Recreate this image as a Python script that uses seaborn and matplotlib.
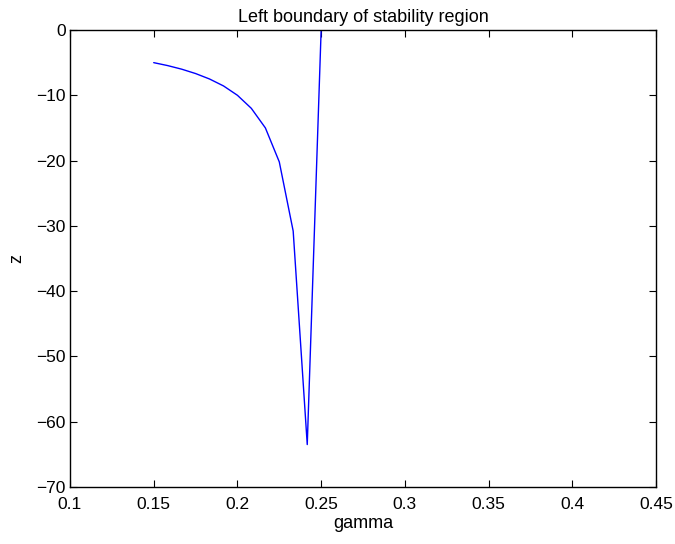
import matplotlib
matplotlib.use("Agg")
import matplotlib.pyplot as plt
import seaborn as sns
import pandas as pd
import numpy as np

gamma = [0.15, 0.1583, 0.1667, 0.175, 0.1833, 0.1917, 0.2, 0.2083, 0.2167,
         0.225, 0.2333, 0.2417, 0.25, 0.2583, 0.2667, 0.275, 0.2833, 0.2917,
         0.3, 0.3083, 0.3167, 0.325, 0.3333, 0.3417, 0.35, 0.3583, 0.3667,
         0.375, 0.3833, 0.3917]
z = [-5.0, -5.45, -6.0, -6.67, -7.5, -8.57, -10.0, -12.0, -15.0,
     -20.2, -30.8, -63.5, 0.0, 0.0, 0.0, 0.0, 0.0, 0.0,
     0.0, 0.0, 0.0, 0.0, 0.0, 0.0, 0.0, 0.0, 0.0,
     0.0, 0.0, 0.0]
xticks = [0.1, 0.15, 0.2, 0.25, 0.3, 0.35, 0.4, 0.45]
xticklabels = ["0.1", "0.15", "0.2", "0.25", "0.3", "0.35", "0.4", "0.45"]
yticks = [-70, -60, -50, -40, -30, -20, -10, 0]
yticklabels = ["\u221270", "\u221260", "\u221250", "\u221240", "\u221230", "\u221220", "\u221210", "0"]

sns.set_theme(style="white")
plt.rcParams['font.family'] = ['Liberation Sans', 'DejaVu Sans']

df = pd.DataFrame({"gamma": gamma, "z": z})
fig = plt.figure(figsize=(6.75, 5.44), dpi=100)
ax = fig.add_axes([70/675, 1-487/544, 586/675, 457/544])
sns.lineplot(data=df, x="gamma", y="z", sort=False, color="#0000ff", lw=1.0, ax=ax)
ax.set_xlim(0.1, 0.45)
ax.set_ylim(-70, 0)
ax.set_xticks(xticks)
ax.set_xticklabels(xticklabels)
ax.set_yticks(yticks)
ax.set_yticklabels(yticklabels)
ax.tick_params(direction="in", length=5, width=0.8, colors="black", labelsize=12.5,
               top=True, right=True, bottom=True, left=True)
ax.tick_params(axis="x", pad=7)
ax.tick_params(axis="y", pad=3)
for s in ax.spines.values():
    s.set_color("black")
    s.set_linewidth(1.0)
    s.set_visible(True)
ax.set_xlabel("gamma", fontsize=13, labelpad=2, color="black")
ax.set_ylabel("z", fontsize=13, labelpad=8, color="black")
ax.set_title("Left boundary of stability region", fontsize=13, pad=6, color="black")
fig.savefig("out.png", dpi=100, facecolor="white")
